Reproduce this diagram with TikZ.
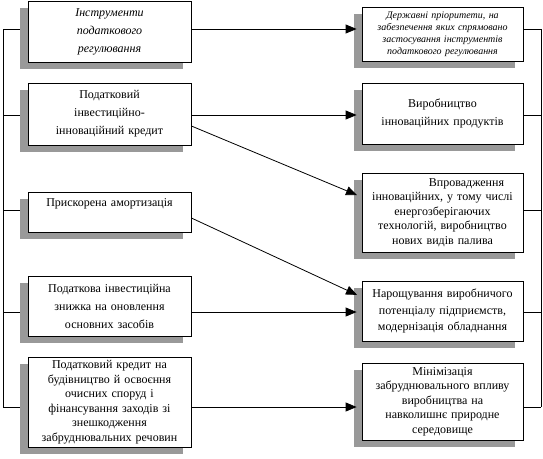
\documentclass[tikz,border=0pt]{standalone}
\usepackage{fontspec}
\setmainfont{Liberation Serif}
\usetikzlibrary{arrows.meta, shadows, backgrounds}

\begin{document}
\begin{tikzpicture}[
    x=1pt, y=-1pt,
    >={Triangle[length=11pt, width=9pt]}, % filled arrow heads
    box/.style={draw, fill=white, line width=0.8pt, align=center, inner sep=2pt,
        font=\fontsize{12}{18}\selectfont,
        drop shadow={shadow xshift=-8pt, shadow yshift=-7pt, fill=black!40, opacity=1}},
    lbox/.style={box, text width=159pt, minimum width=163pt}, % left column
    rbox/.style={box, text width=157pt, minimum width=161pt}, % right column
    dense/.style={font=\fontsize{12}{14.5}\selectfont},
    link/.style={line width=0.8pt},
    arr/.style={link, ->, shorten >=5pt}
]
    \useasboundingbox (0,0) rectangle (543,458);

    % Rows of the connectors
    \coordinate (row1) at (0,29);
    \coordinate (row2) at (0,115);
    \coordinate (row3) at (0,210);
    \coordinate (row4) at (0,312);
    \coordinate (row5) at (0,407);
    \coordinate (lbus) at (3,0);   % left bus line
    \coordinate (rbus) at (541,0); % right bus line

    % Left column: tax instruments
    \node[lbox, minimum height=61pt, font=\itshape\fontsize{12}{18}\selectfont] (instr) at (109.5,31.5)
        {Інструменти\\податкового\\регулювання};
    \node[lbox, minimum height=62pt] (credit) at (109.5,114)
        {Податковий\\інвестиційно-\\інноваційний кредит};
    \node[lbox, minimum height=40pt] (amort) at (109.5,212)
        {Прискорена амортизація\\~};
    \node[lbox, minimum height=60pt] (discount) at (109.5,306)
        {Податкова інвестиційна\\знижка на оновлення\\основних засобів};
    \node[lbox, dense, minimum height=90pt] (ecocredit) at (109.5,402)
        {Податковий кредит на\\будівництво й освоєння\\очисних споруд і\\фінансування заходів зі\\знешкодження\\забруднювальних речовин};

    % Right column: state priorities
    \node[rbox, minimum height=54pt, font=\itshape\fontsize{10}{12}\selectfont] (prior) at (442.5,34)
        {Державні пріоритети, на\\забезпечення яких спрямовано\\застосування інструментів\\податкового регулювання};
    \node[rbox, minimum height=61pt] (prod) at (442.5,113.5)
        {Виробництво\\інноваційних продуктів};
    \node[rbox, dense, minimum height=79pt] (tech) at (442.5,212.5)
        {\hspace*{4em}Впровадження\\інноваційних, у тому числі\\енергозберігаючих\\технологій, виробництво\\нових видів палива};
    \node[rbox, font=\fontsize{12}{16.5}\selectfont, minimum height=60pt] (potential) at (442.5,311)
        {Нарощування виробничого\\потенціалу підприємств,\\модернізація обладнання};
    \node[rbox, dense, minimum height=77pt] (ecology) at (442.5,401.5)
        {Мінімізація\\забруднювального впливу\\виробництва на\\навколишнє природне\\середовище};

    % Bus lines behind the shadows
    \begin{scope}[on background layer]
        \draw[link] (lbus |- row1) -- (lbus |- row5);
        \draw[link] (rbus |- row1) -- (rbus |- row5);
        \foreach \b/\r in {instr/row1, credit/row2, amort/row3, discount/row4, ecocredit/row5}
            \draw[link] (lbus |- \r) -- (\b.west |- \r);
        \foreach \b/\r in {prior/row1, prod/row2, tech/row3, potential/row4, ecology/row5}
            \draw[link] (\b.east |- \r) -- (rbus |- \r);
    \end{scope}

    % Arrows
    \draw[arr] (instr.east |- row1) -- (prior.west |- row1);
    \draw[arr] (credit.east |- row2) -- (prod.west |- row2);
    \draw[arr] (discount.east |- row4) -- (potential.west |- row4);
    \draw[arr] (ecocredit.east |- row5) -- (ecology.west |- row5);

    \coordinate (d1) at (0,126);
    \coordinate (d2) at (0,197);
    \coordinate (d3) at (0,218);
    \coordinate (d4) at (0,297);
    \draw[arr] (credit.east |- d1) -- (tech.west |- d2);
    \draw[arr] (amort.east |- d3) -- (potential.west |- d4);

\end{tikzpicture}
\end{document}
